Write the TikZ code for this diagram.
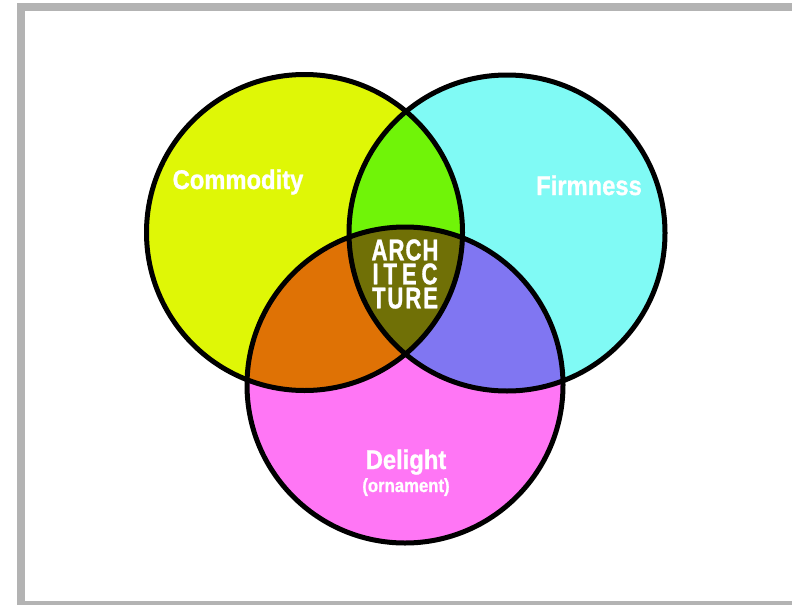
\documentclass[tikz,border=0pt]{standalone}
\usepackage{fontspec}
\setmainfont{Liberation Sans}[FakeStretch=0.88,BoldFeatures={FakeBold=1}]
\newfontfamily\archfont{Liberation Sans}[FakeStretch=0.74,BoldFeatures={FakeBold=1}]
\definecolor{cyel}{RGB}{223,247,6}
\definecolor{ccyan}{RGB}{128,250,245}
\definecolor{cmag}{RGB}{255,118,245}
\definecolor{cgreen}{RGB}{112,244,8}
\definecolor{corange}{RGB}{223,114,5}
\definecolor{cpurple}{RGB}{128,118,242}
\definecolor{colive}{RGB}{112,112,6}
\definecolor{cframe}{RGB}{179,179,179}
\tikzset{
  ring/.style={draw=black, line width=5pt},
  lbl/.style={text=white, font=\bfseries\fontsize{27}{28}\selectfont, inner sep=0pt, anchor=base},
  archtext/.style={text=white, font=\archfont\bfseries\fontsize{30}{24}\selectfont, inner sep=0pt, align=center}
}
\begin{document}
\begin{tikzpicture}[x=1pt,y=-1pt]
\useasboundingbox (0,0) rectangle (792,605);
% frame
\fill[cframe] (17,3) rectangle (25,605);
\fill[cframe] (17,3) rectangle (792,11);
\fill[cframe] (17,601) rectangle (792,605);
% circle geometry
\def\Ycirc{(304.5,232.5) circle[radius=158pt]}
\def\Ccirc{(507,233) circle[radius=158pt]}
\def\Mcirc{(405,385) circle[radius=158pt]}
% base fills
\fill[cyel] \Ycirc;
\fill[ccyan] \Ccirc;
\fill[cmag] \Mcirc;
% pairwise overlaps
\begin{scope}
  \clip \Ycirc;
  \fill[cgreen] \Ccirc;
  \fill[corange] \Mcirc;
\end{scope}
\begin{scope}
  \clip \Ccirc;
  \fill[cpurple] \Mcirc;
\end{scope}
\begin{scope}
  \clip \Ycirc;
  \clip \Ccirc;
  \fill[colive] \Mcirc;
\end{scope}
% outlines
\draw[ring] \Ycirc;
\draw[ring] \Ccirc;
\draw[ring] \Mcirc;
% labels
\node[lbl] (commodity) at (238,189) {Commodity};
\node[lbl] (firmness) at (589,195) {Firmness};
\node[lbl] (delight) at (406,469) {Delight};
\node[lbl, font=\bfseries\fontsize{19}{19}\selectfont] (ornament) at (406,492) {(ornament)};
\node[archtext] (arch) at (405,274) {\makebox[67pt][s]{A\hfill R\hfill C\hfill H}\\
  \makebox[65pt][s]{I\hfill T\hfill E\hfill C}\\
  \makebox[66pt][s]{T\hfill U\hfill R\hfill E}};
\end{tikzpicture}
\end{document}
